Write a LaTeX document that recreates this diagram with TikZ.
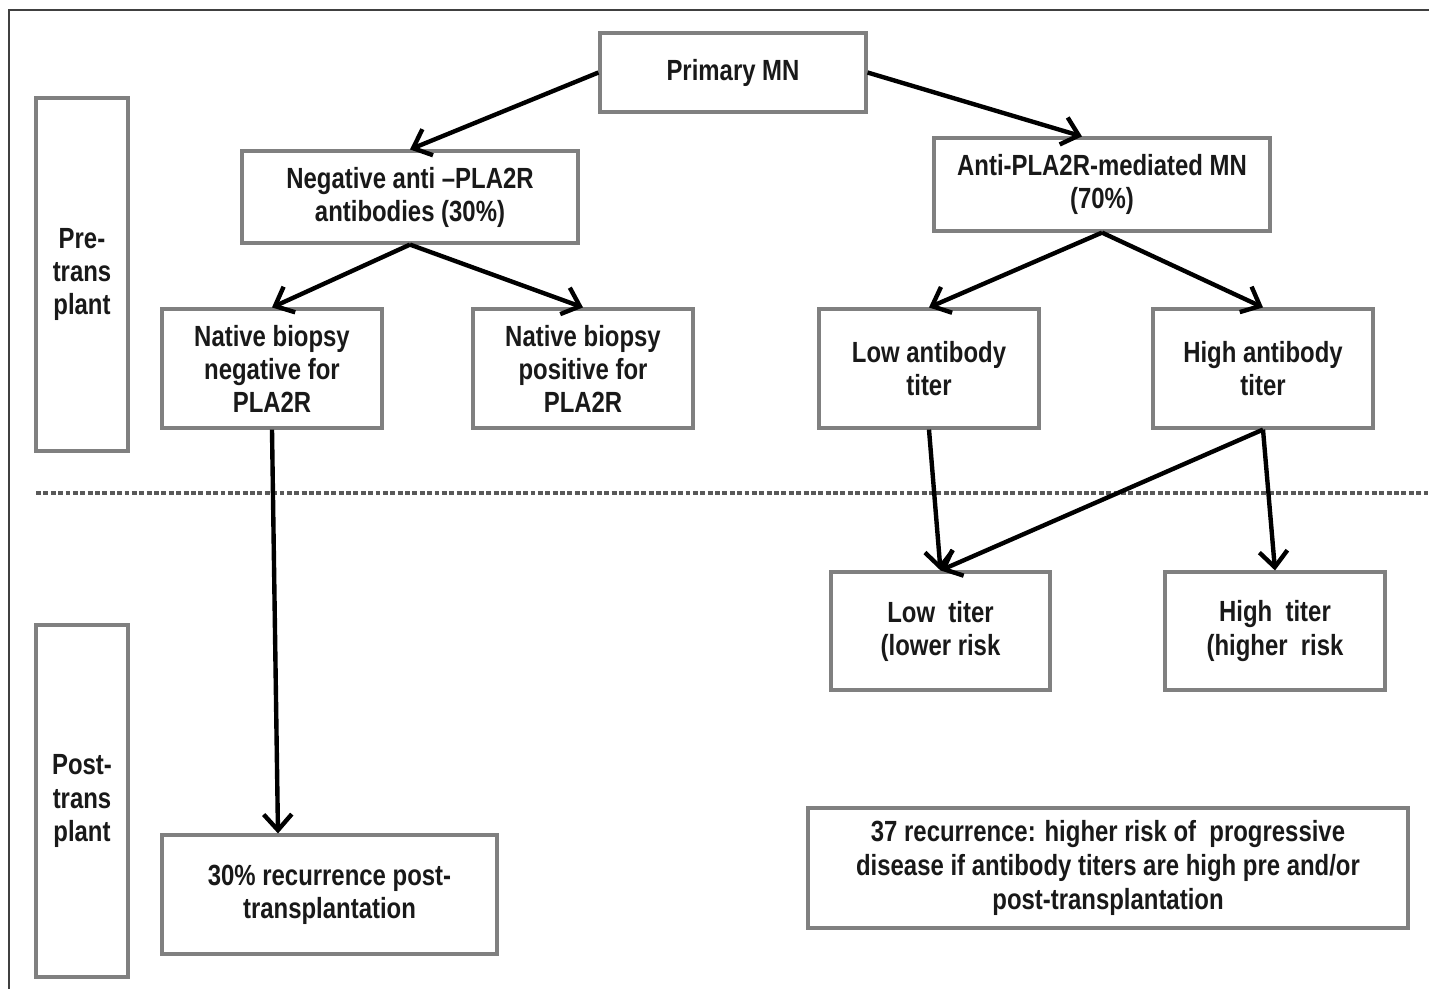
\documentclass[tikz,border=0pt]{standalone}
\usepackage{fontspec}
\setmainfont{Liberation Sans}[FakeStretch=0.82]
\usetikzlibrary{arrows.meta}

\begin{document}
\begin{tikzpicture}[
  box/.style={draw=black!50, line width=0.9pt, align=center, inner sep=0pt,
    text=black!90, font=\bfseries\fontsize{8.3}{9.4}\selectfont},
  arr/.style={-{Straight Barb[length=4.5pt,width=8pt]}, line width=1.25pt}
]
  \useasboundingbox (0,0) rectangle (14.29,-9.89);

  % frame
  \draw[black!75, line width=0.6pt] (14.29,-0.10) -- (0.09,-0.10) -- (0.09,-9.89);

  % phase labels
  \node[box, minimum width=0.92cm, minimum height=3.53cm] (pre) at (0.82,-2.745) {Pre-\\trans\\plant};
  \node[box, minimum width=0.92cm, minimum height=3.52cm] (post) at (0.82,-8.01) {Post-\\trans\\plant};

  % top level
  \node[box, minimum width=2.66cm, minimum height=0.79cm] (primary) at (7.33,-0.725) {Primary MN};
  \node[box, minimum width=3.36cm, minimum height=0.92cm] (neg) at (4.10,-1.97) {Negative anti –PLA2R\\antibodies (30\%)};
  \node[box, minimum width=3.36cm, minimum height=0.93cm] (anti) at (11.02,-1.845) {Anti-PLA2R-mediated MN\\(70\%)};

  % pre-transplant
  \node[box, minimum width=2.2cm, minimum height=1.19cm] (natneg) at (2.72,-3.685) {Native biopsy\\negative for\\PLA2R};
  \node[box, minimum width=2.2cm, minimum height=1.19cm] (natpos) at (5.83,-3.685) {Native biopsy\\positive for\\PLA2R};
  \node[box, minimum width=2.2cm, minimum height=1.19cm] (lowab) at (9.29,-3.685) {Low antibody\\titer};
  \node[box, minimum width=2.2cm, minimum height=1.19cm] (highab) at (12.63,-3.685) {High antibody\\titer};

  % split
  \coordinate (sepl) at (0.36,-4.93);
  \coordinate (sepr) at (14.29,-4.93);
  \draw[black!65, line width=0.9pt, dash pattern=on 1.4pt off 0.7pt] (sepl) -- (sepr);

  % post-transplant
  \node[box, minimum width=2.19cm, minimum height=1.18cm] (lowt) at (9.405,-6.31) {Low\ \ titer\\(lower risk};
  \node[box, minimum width=2.2cm, minimum height=1.18cm] (hight) at (12.75,-6.31) {High\ \ titer\\(higher\ \ risk};
  \node[box, minimum width=3.35cm, minimum height=1.19cm] (rec30) at (3.295,-8.945) {30\% recurrence post-\\transplantation};
  \node[box, minimum width=6.0cm, minimum height=1.2cm, font=\bfseries\fontsize{8.3}{9.6}\selectfont] (rec37) at (11.08,-8.68)
    {37 recurrence: higher risk of\ \ progressive\\disease if antibody titers are high pre and/or\\post-transplantation};

  \draw[arr] (primary.west) -- (neg.north);
  \draw[arr] (primary.east) -- ([xshift=-0.2cm]anti.north);
  \draw[arr] (neg.south) -- (natneg.north);
  \draw[arr] (neg.south) -- (natpos.north);
  \draw[arr] (anti.south) -- (lowab.north);
  \draw[arr] (anti.south) -- (highab.north);
  \draw[arr] (natneg.south) -- ([xshift=-0.515cm]rec30.north);
  \draw[arr] (lowab.south) -- (lowt.north);
  \draw[arr] (highab.south) -- (lowt.north);
  \draw[arr] (highab.south) -- (hight.north);
\end{tikzpicture}
\end{document}
